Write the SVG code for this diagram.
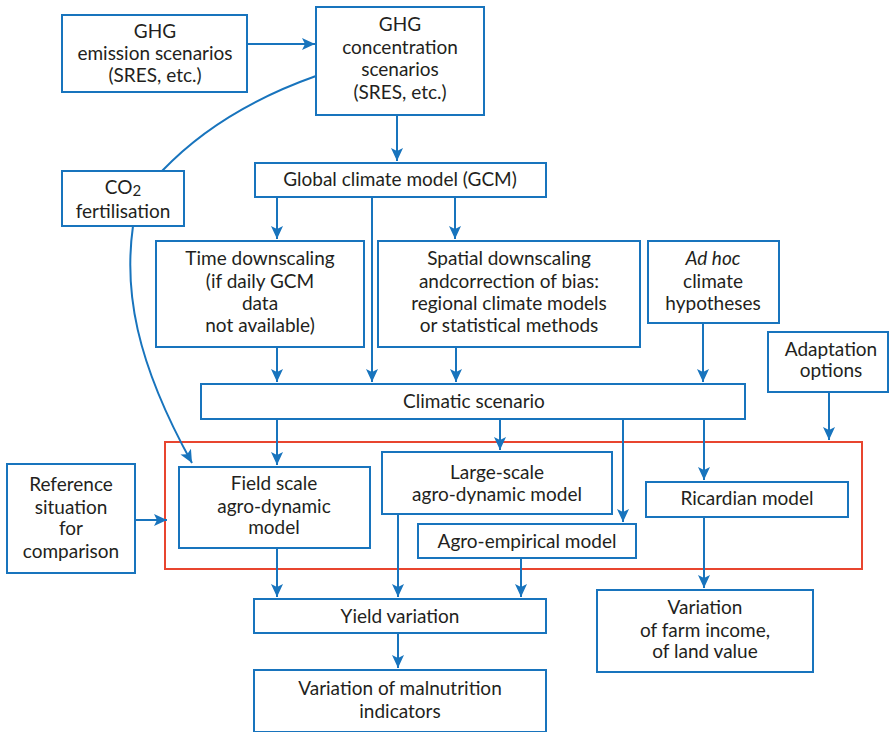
<svg xmlns="http://www.w3.org/2000/svg" width="891" height="732" viewBox="0 0 891 732">
<style>
.b{fill:#fff;stroke:#1874bd;stroke-width:2}
.r{fill:none;stroke:#e8452f;stroke-width:2}
.c{fill:none;stroke:#1874bd;stroke-width:2}
text{font-family:Lato,"Open Sans","Liberation Sans",sans-serif;font-size:19px;fill:#231f20;text-anchor:middle}
</style>
<defs>
<marker id="a" markerUnits="userSpaceOnUse" markerWidth="14" markerHeight="12" refX="13" refY="6" orient="auto">
<path d="M0,0 L13,6 L0,12 L3,6 Z" fill="#1874bd"/>
</marker>
</defs>
<rect class="r" x="165" y="442" width="697" height="127"/>
<g id="connectors">
<path class="c" d="M247,44 L315,44" marker-end="url(#a)"/>
<path class="c" d="M397,115 L397,161" marker-end="url(#a)"/>
<path class="c" d="M316,76 Q220,110 162,171"/>
<path class="c" d="M133,226 C124,290 135,360 192,463" marker-end="url(#a)"/>
<path class="c" d="M277,197 L277,239" marker-end="url(#a)"/>
<path class="c" d="M455,197 L455,239" marker-end="url(#a)"/>
<path class="c" d="M372,197 L372,382" marker-end="url(#a)"/>
<path class="c" d="M277,347 L277,382" marker-end="url(#a)"/>
<path class="c" d="M456,347 L456,382" marker-end="url(#a)"/>
<path class="c" d="M703,323 L703,382" marker-end="url(#a)"/>
<path class="c" d="M829,392 L829,440" marker-end="url(#a)"/>
<path class="c" d="M277,419 L277,465" marker-end="url(#a)"/>
<path class="c" d="M500,419 L500,450" marker-end="url(#a)"/>
<path class="c" d="M623,419 L623,522" marker-end="url(#a)"/>
<path class="c" d="M704,419 L704,480" marker-end="url(#a)"/>
<path class="c" d="M135,520 L167,520" marker-end="url(#a)"/>
<path class="c" d="M277,548 L277,597" marker-end="url(#a)"/>
<path class="c" d="M398,514 L398,597" marker-end="url(#a)"/>
<path class="c" d="M521,558 L521,597" marker-end="url(#a)"/>
<path class="c" d="M704,517 L704,588" marker-end="url(#a)"/>
<path class="c" d="M398,633 L398,668" marker-end="url(#a)"/>
</g>
<g id="ghg-emission"><rect class="b" x="62" y="15" width="185" height="77"/>
<text x="155" y="38">GHG</text><text x="155" y="60">emission scenarios</text><text x="155" y="82">(SRES, etc.)</text></g>
<g id="ghg-concentration"><rect class="b" x="316" y="7" width="168" height="108"/>
<text x="400" y="31">GHG</text><text x="400" y="54">concentration</text><text x="400" y="76">scenarios</text><text x="400" y="99">(SRES, etc.)</text></g>
<g id="co2"><rect class="b" x="62" y="171" width="122" height="55"/>
<text x="123" y="194">CO<tspan font-size="15" dy="2">2</tspan></text><text x="123" y="218">fertilisation</text></g>
<g id="gcm"><rect class="b" x="255" y="163" width="291" height="34"/>
<text x="400" y="186">Global climate model (GCM)</text></g>
<g id="time-downscaling"><rect class="b" x="156" y="241" width="208" height="106"/>
<text x="260" y="265">Time downscaling</text><text x="260" y="288">(if daily GCM</text><text x="260" y="310">data</text><text x="260" y="332">not available)</text></g>
<g id="spatial-downscaling"><rect class="b" x="378" y="241" width="262" height="106"/>
<text x="509" y="265">Spatial downscaling</text><text x="509" y="288">andcorrection of bias:</text><text x="509" y="310">regional climate models</text><text x="509" y="332">or statistical methods</text></g>
<g id="ad-hoc"><rect class="b" x="648" y="241" width="131" height="82"/>
<text x="713" y="265" font-style="italic">Ad hoc</text><text x="713" y="288">climate</text><text x="713" y="310">hypotheses</text></g>
<g id="adaptation"><rect class="b" x="768" y="332" width="120" height="60"/>
<text x="831" y="356">Adaptation</text><text x="831" y="377">options</text></g>
<g id="climatic-scenario"><rect class="b" x="201" y="384" width="544" height="35"/>
<text x="474" y="408">Climatic scenario</text></g>
<g id="reference"><rect class="b" x="7" y="464" width="128" height="109"/>
<text x="71" y="491">Reference</text><text x="71" y="514">situation</text><text x="71" y="535">for</text><text x="71" y="558">comparison</text></g>
<g id="field-scale"><rect class="b" x="179" y="467" width="191" height="81"/>
<text x="274" y="490">Field scale</text><text x="274" y="513">agro-dynamic</text><text x="274" y="534">model</text></g>
<g id="large-scale"><rect class="b" x="382" y="452" width="230" height="62"/>
<text x="497" y="479">Large-scale</text><text x="497" y="501">agro-dynamic model</text></g>
<g id="agro-empirical"><rect class="b" x="418" y="524" width="218" height="34"/>
<text x="527" y="548">Agro-empirical model</text></g>
<g id="ricardian"><rect class="b" x="646" y="482" width="202" height="35"/>
<text x="747" y="505">Ricardian model</text></g>
<g id="yield"><rect class="b" x="254" y="599" width="292" height="34"/>
<text x="400" y="623">Yield variation</text></g>
<g id="malnutrition"><rect class="b" x="254" y="670" width="292" height="62"/>
<text x="400" y="695">Variation of malnutrition</text><text x="400" y="718">indicators</text></g>
<g id="farm-income"><rect class="b" x="597" y="590" width="216" height="82"/>
<text x="705" y="614">Variation</text><text x="705" y="637">of farm income,</text><text x="705" y="658">of land value</text></g>
</svg>
